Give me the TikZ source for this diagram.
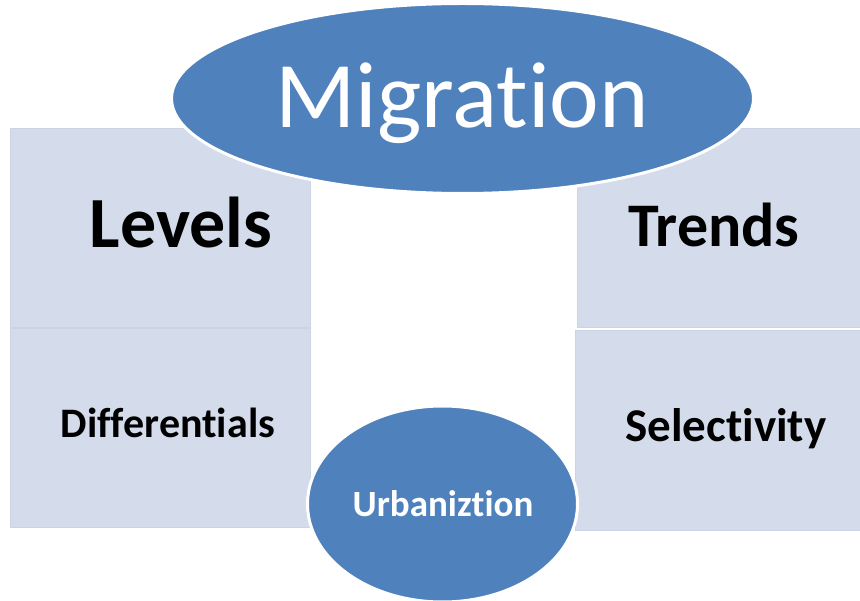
\documentclass[tikz,border=0pt]{standalone}
\usepackage{fontspec}
\setmainfont{Carlito}[RawFeature={-liga;-clig}]
\usetikzlibrary{shapes.geometric}
\definecolor{panelfill}{HTML}{D4DBEA}
\definecolor{panelline}{HTML}{CBD3E5}
\definecolor{hubblue}{HTML}{4F81BD}
\tikzset{
  panel/.style={draw=panelline, line width=1.2pt, fill=panelfill, rectangle,
    anchor=north west, inner sep=0pt},
  hub/.style={ellipse, fill=hubblue, draw=white, line width=3pt, inner sep=0pt},
  label/.style={anchor=base, inner sep=0pt, font=\bfseries},
}
\begin{document}
\begin{tikzpicture}[x=1pt, y=-1pt]
\useasboundingbox (0,0) rectangle (860,601);
% four panels
\node[panel, minimum width=300pt, minimum height=199pt] (tl) at (10,128) {};
\node[panel, minimum width=283pt, minimum height=199pt] (tr) at (577,128) {};
\node[panel, minimum width=300pt, minimum height=199pt] (bl) at (10,328) {};
\node[panel, minimum width=286pt, minimum height=200pt] (br) at (575,330) {};
% central ellipses
\node[hub, minimum width=582pt, minimum height=190pt] (mig) at (462.5,98.5) {};
\node[hub, minimum width=270pt, minimum height=196pt] (urb) at (442.5,504) {};
% labels
\node[label, font=\fontsize{94}{94}\selectfont, text=white] (tmig) at (462,128) {Migration};
\node[label, font=\bfseries\fontsize{72}{72}\selectfont] (tlev) at (181,248) {Levels};
\node[label, font=\bfseries\fontsize{62}{62}\selectfont] (ttre) at (714,247) {Trends};
\node[label, font=\bfseries\fontsize{42}{42}\selectfont] (tdif) at (168,438) {Differentials};
\node[label, font=\bfseries\fontsize{47}{47}\selectfont] (tsel) at (726,442) {Selectivity};
\node[label, font=\bfseries\fontsize{37}{37}\selectfont, text=white] (turb) at (443,516) {Urbaniztion};
\end{tikzpicture}
\end{document}
